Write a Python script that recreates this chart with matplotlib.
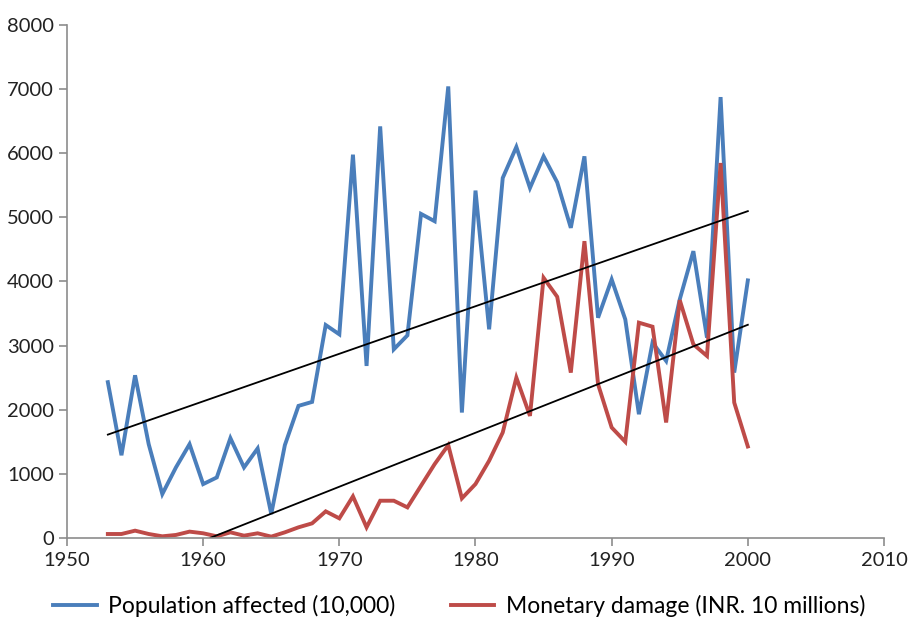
import numpy as np
import matplotlib
matplotlib.use("Agg")
import matplotlib.pyplot as plt

years = list(range(1953, 2001))
population = [2430, 1290, 2537, 1463, 685, 1100, 1463, 840, 944, 1557,
              1100, 1396, 374, 1448, 2060, 2122, 3321, 3176, 5978, 2683,
              6419, 2942, 3160, 5054, 4940, 7042, 1956, 5418, 3254, 5615,
              6098, 5459, 5952, 5547, 4837, 5952, 3435, 4032, 3409, 1930,
              3046, 2761, 3721, 4473, 3124, 6876, 2579, 4017]
damage = [62, 62, 114, 62, 26, 47, 99, 73, 26, 88,
          36, 73, 21, 88, 166, 228, 415, 306, 649, 166,
          581, 581, 477, 815, 1152, 1448, 618, 841, 1204, 1645,
          2501, 1904, 4058, 3762, 2579, 4629, 2397, 1723, 1500, 3358,
          3295, 1801, 3710, 3020, 2839, 5848, 2112, 1427]
labels = ["Population affected (10,000)", "Monetary damage (INR. 10 millions)"]

BLUE = "#4A7EBB"
RED = "#BE4B48"
plt.rcParams['font.family'] = ['Lato', 'DejaVu Sans']

fig = plt.figure(figsize=(9.09, 6.19), dpi=100)
ax = fig.add_axes([0.0737, 0.1309, 0.8988, 0.8287])

x = np.array(years, float)
ax.plot(x, population, color=BLUE, lw=2.8, label=labels[0], solid_joinstyle="miter")
ax.plot(x, damage, color=RED, lw=2.8, label=labels[1], solid_joinstyle="miter")

# linear trendlines (Excel style), clipped at the axis minimum
for ys in (population, damage):
    k, b = np.polyfit(x, ys, 1)
    xs = np.linspace(x[0], x[-1], 400)
    yt = k * xs + b
    m = yt >= 0
    ax.plot(xs[m], yt[m], color="black", lw=1.3)

ax.set_xlim(1950, 2010)
ax.set_ylim(0, 8000)
ax.set_xticks(range(1950, 2011, 10))
ax.set_yticks(range(0, 8001, 1000))
for s in ("top", "right"):
    ax.spines[s].set_visible(False)
for s in ("left", "bottom"):
    ax.spines[s].set_color("#8c8c8c")
    ax.spines[s].set_linewidth(1.2)
ax.tick_params(axis="both", colors="#8c8c8c", labelcolor="#222222", labelsize=14.5,
               length=6, width=1.2, direction="out")
ax.tick_params(axis="x", pad=4)

ax.legend(loc="upper center", bbox_to_anchor=(0.48, -0.07), ncol=2, frameon=False,
          fontsize=16.5, handlelength=1.9, columnspacing=2.4, handletextpad=0.5)

fig.savefig("out.png", dpi=100)
